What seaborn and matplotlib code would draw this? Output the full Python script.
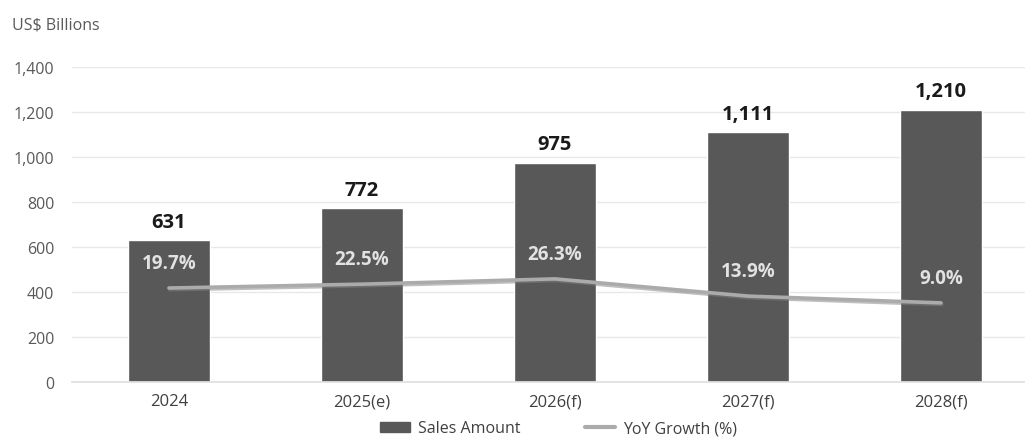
import matplotlib
matplotlib.use("Agg")
import matplotlib.pyplot as plt
import matplotlib.patheffects as pe
from matplotlib.lines import Line2D
from matplotlib.patches import Patch
import seaborn as sns
import pandas as pd

categories = ["2024", "2025(e)", "2026(f)", "2027(f)", "2028(f)"]
sales = [631, 772, 975, 1111, 1210]
growth = [19.7, 22.5, 26.3, 13.9, 9.0]
yticks = [0, 200, 400, 600, 800, 1000, 1200, 1400]

df = pd.DataFrame({"cat": categories, "sales": sales, "growth": growth})

sns.set_theme(style="white")
plt.rcParams["font.family"] = ["Open Sans", "DejaVu Sans"]

fig = plt.figure(figsize=(10.25, 4.39), dpi=100)
ax = fig.add_axes([0.0707, 0.1276, 0.9415, 0.7175])

BAR = "#585858"
sns.barplot(data=df, x="cat", y="sales", color=BAR, width=0.425,
            saturation=1, ax=ax, zorder=2)
ax.set_ylim(0, 1400)
ax.set_xlim(-0.5, 4.5)
ax.set_yticks(yticks)
ax.set_yticklabels([f"{v:,}" for v in yticks])
ax.grid(axis="y", color="#e8e8e8", linewidth=1, zorder=0)
ax.set_axisbelow(True)
for s in ["top", "right", "left"]:
    ax.spines[s].set_visible(False)
ax.spines["bottom"].set_color("#e0e0e0")
ax.tick_params(axis="both", length=0, colors="#595959")
ax.tick_params(axis="y", pad=13, labelsize=11.5)
ax.tick_params(axis="x", pad=8, labelcolor="#404040", labelsize=12)
ax.set_xlabel("")
ax.set_ylabel("")

for i, v in enumerate(sales):
    ax.annotate(f"{v:,}", (i, v), xytext=(0, 6), textcoords="offset points",
                ha="center", va="bottom", fontsize=14.5, fontweight="bold",
                color="#1a1a1a")

ax2 = ax.twinx()
ax2.set_ylim(-48, 179)
ax2.axis("off")
sns.lineplot(x=list(range(len(growth))), y=growth, ax=ax2, color="#ababab",
             linewidth=2.6,
             path_effects=[pe.SimpleLineShadow(offset=(0.6, -1.2), shadow_color="#808080", alpha=0.5),
                           pe.Normal()])
for i, g in enumerate(growth):
    ax2.annotate(f"{g:.1f}%", (i, g), xytext=(0, 18), textcoords="offset points",
                 ha="center", va="center", fontsize=13.5, fontweight="bold",
                 color="#e2e2e2")

fig.text(0.012, 0.943, "US$ Billions", fontsize=11.5, color="#595959",
         ha="left", va="center")

handles = [Patch(facecolor=BAR, edgecolor=BAR),
           Line2D([0], [0], color="#ababab", linewidth=3)]
fig.legend(handles, ["Sales Amount", "YoY Growth (%)"], ncol=2,
           loc="center", bbox_to_anchor=(0.545, 0.022), frameon=False,
           fontsize=11.5, labelcolor="#404040", handlelength=1.9,
           handleheight=0.55, columnspacing=4.0, handletextpad=0.5)

fig.savefig("out.png", dpi=100)
